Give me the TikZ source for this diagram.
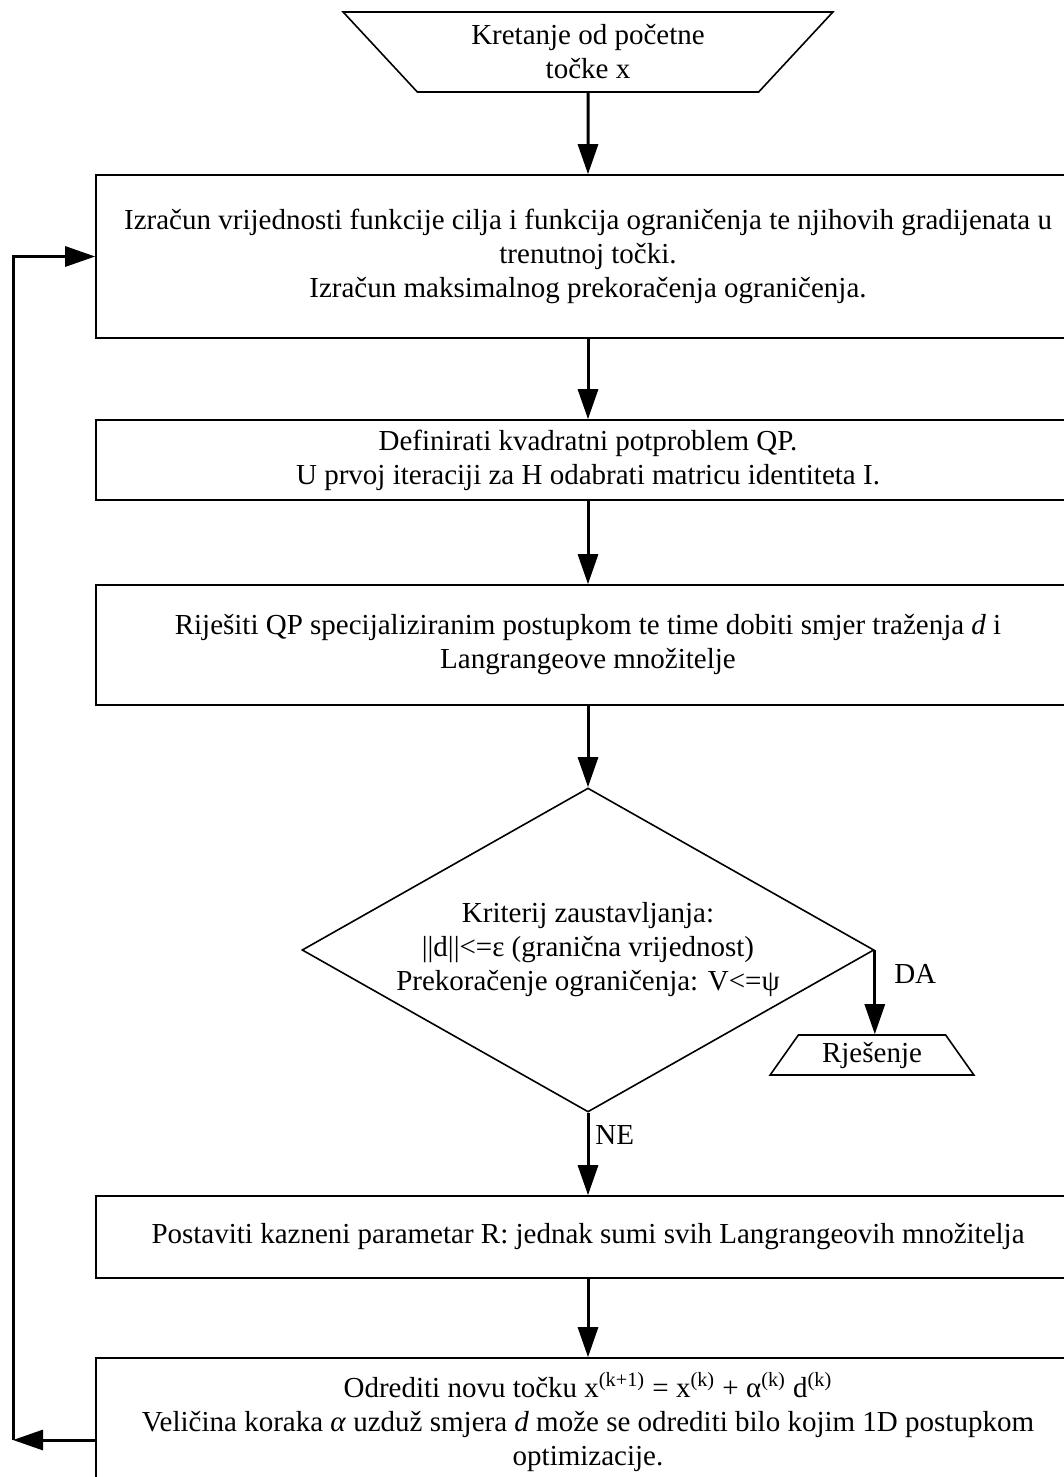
\documentclass[tikz,border=0pt]{standalone}
\usepackage{fontspec}
\setmainfont{Liberation Serif}
\usetikzlibrary{shapes.geometric,arrows.meta}
\begin{document}
\begin{tikzpicture}[
    x=0.5pt, y=-0.5pt,
    font=\fontsize{14.5}{17}\selectfont,
    every node/.style={align=center, line width=0.8pt},
    box/.style={draw, minimum width=492pt, inner sep=0pt},
    term/.style={draw, trapezium, trapezium stretches=true, inner sep=0pt},
    arr/.style={line width=1.5pt, -{Triangle[length=15pt,width=10pt]}}
]
\useasboundingbox (0,0) rectangle (1064,1477);
\clip (0,0) rectangle (1064,1477);

\node[term, shape border rotate=180, minimum width=245pt, minimum height=40pt, trapezium angle=47] (start) at (588,52) {Kretanje od početne\\točke x};
\node[box, minimum height=81.5pt] (calc) at (588,256.5) {Izračun vrijednosti funkcije cilja i funkcija ograničenja te njihovih gradijenata u\\trenutnoj točki.\\Izračun maksimalnog prekoračenja ograničenja.};
\node[box, minimum height=40pt] (qp) at (588,460) {Definirati kvadratni potproblem QP.\\U prvoj iteraciji za H odabrati matricu identiteta I.};
\node[box, minimum height=60pt] (solve) at (588,645) {Riješiti QP specijaliziranim postupkom te time dobiti smjer traženja \textit{d} i\\Langrangeove množitelje};
\node[draw, diamond, minimum width=286pt, minimum height=162pt, aspect=1.77, inner sep=0pt] (crit) at (588,950) {Kriterij zaustavljanja:\\||d||<=ε (granična vrijednost)\\Prekoračenje ograničenja: V<=ψ};
\node[term, minimum width=102.5pt, minimum height=20pt, trapezium angle=54] (sol) at (872,1055) {Rješenje};
\node[box, minimum height=41pt] (pen) at (588,1237) {Postaviti kazneni parametar R: jednak sumi svih Langrangeovih množitelja};
\node[box, minimum height=64pt] (step) at (588,1422) {Odrediti novu točku x\textsuperscript{(k+1)} = x\textsuperscript{(k)} + α\textsuperscript{(k)} d\textsuperscript{(k)}\\Veličina koraka \textit{α} uzduž smjera \textit{d} može se odrediti bilo kojim 1D postupkom\\optimizacije.};
\coordinate (back) at (13,1440);

\foreach \a/\b in {start/calc, calc/qp, qp/solve, solve/crit, pen/step} {\draw[arr] (\a) -- (\b);}
\draw[arr] (crit.east) -- node[pos=0.28, right, xshift=6pt] {DA} (crit.east |- sol.north);
\draw[arr] (crit) -- node[pos=0.27, right] {NE} (pen);
\draw[arr] ([yshift=-9pt]step.west) -- (back);
\draw[arr] (back) |- (calc.west);
\end{tikzpicture}
\end{document}
